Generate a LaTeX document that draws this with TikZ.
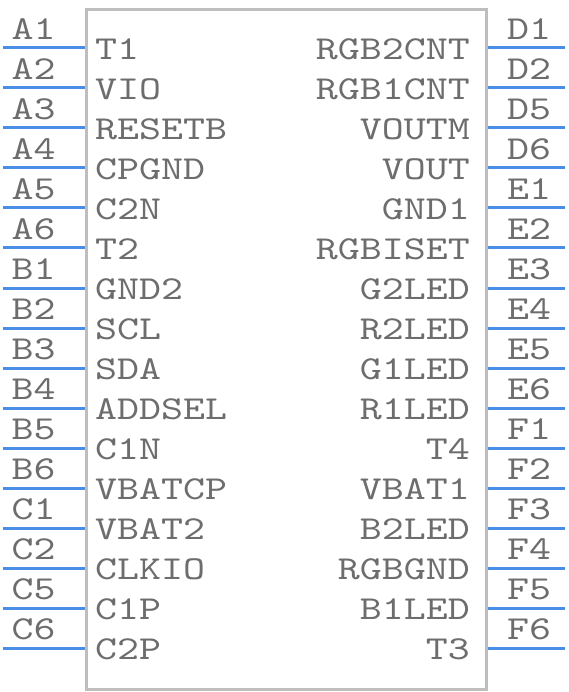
\documentclass[tikz,border=0pt]{standalone}
\usepackage{fontspec}
\newfontfamily\pinfont[FakeStretch=1.25]{lmmono10-regular.otf}
\definecolor{pinblue}{HTML}{4A8FE7}
\definecolor{textgray}{HTML}{6D6D6D}
\definecolor{boxgray}{HTML}{BEBEBE}

\tikzset{
  chipbox/.style={draw=boxgray, line width=3pt, minimum width=400pt,
    minimum height=679pt, inner sep=0pt, anchor=north west},
  pinline/.style={draw=pinblue, line width=3pt},
  pinnum/.style={text=textgray, font=\pinfont\fontsize{33.5}{40}\selectfont,
    inner sep=0pt, anchor=base},
  signame/.style={text=textgray, font=\pinfont\fontsize{33.5}{40}\selectfont,
    inner sep=0pt}
}

\begin{document}
\begin{tikzpicture}[x=1pt,y=-1pt]
\useasboundingbox (0,0) rectangle (568,692);

% package outline
\node[chipbox] (chip) at (84.5,8.5) {};

% left side pins
\foreach \num/\sig [count=\i from 0] in {A1/T1,A2/VIO,A3/RESETB,A4/CPGND,
    A5/C2N,A6/T2,B1/GND2,B2/SCL,B3/SDA,B4/ADDSEL,B5/C1N,B6/VBATCP,
    C1/VBAT2,C2/CLKIO,C5/C1P,C6/C2P}
{
  \coordinate (lend\i) at (3,48+40*\i);
  \draw[pinline] (lend\i) -- (chip.west |- lend\i);
  \node[pinnum] (lnum\i) at (33.5,39.3+40*\i) {\num};
  \node[signame, anchor=base west] (lsig\i) at (95,59.3+40*\i) {\sig};
}

% right side pins
\foreach \num/\sig [count=\i from 0] in {D1/RGB2CNT,D2/RGB1CNT,D5/VOUTM,
    D6/VOUT,E1/GND1,E2/RGBISET,E3/G2LED,E4/R2LED,E5/G1LED,E6/R1LED,
    F1/T4,F2/VBAT1,F3/B2LED,F4/RGBGND,F5/B1LED,F6/T3}
{
  \coordinate (rend\i) at (565,48+40*\i);
  \draw[pinline] (chip.east |- rend\i) -- (rend\i);
  \node[pinnum] (rnum\i) at (529,39.3+40*\i) {\num};
  \node[signame, anchor=base east] (rsig\i) at (470,59.3+40*\i) {\sig};
}
\end{tikzpicture}
\end{document}
